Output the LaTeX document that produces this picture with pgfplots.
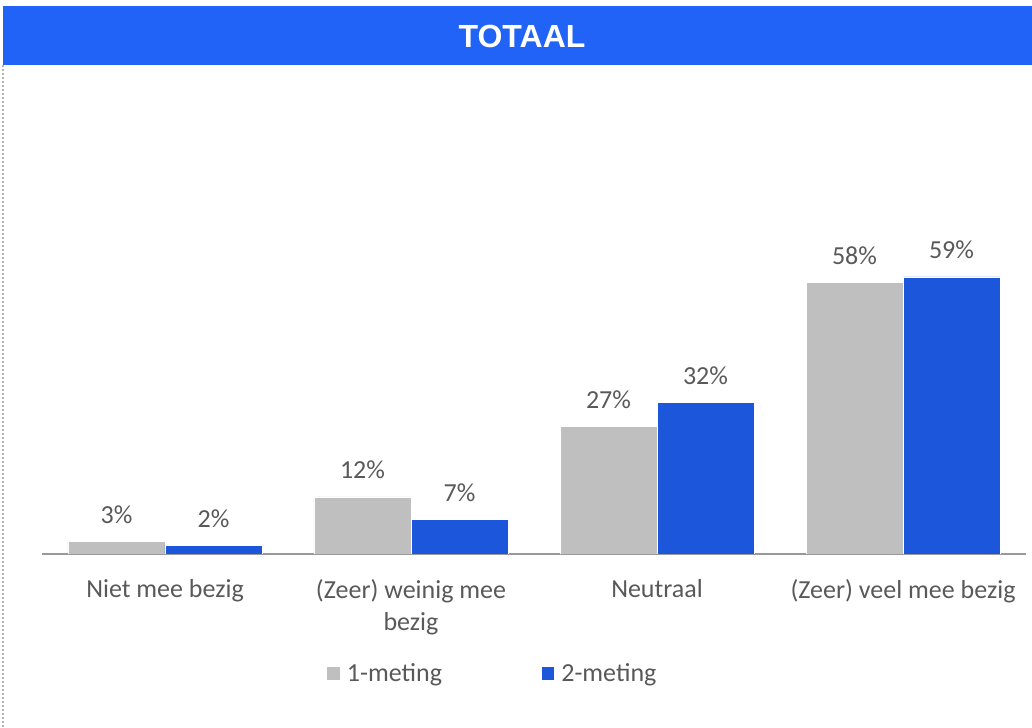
\documentclass[border=0pt]{standalone}
\usepackage{pgfplots}
\pgfplotsset{compat=1.18}
\usepackage{fontspec}
\setmainfont{Carlito}
\newfontfamily\titlefont{Liberation Sans}
\definecolor{header}{RGB}{33,99,247}
\definecolor{barblue}{RGB}{27,86,219}
\definecolor{bargray}{RGB}{191,191,191}
\definecolor{txt}{RGB}{89,89,89}

\begin{document}
\begin{tikzpicture}
\useasboundingbox (0,0) rectangle (774pt,546pt);
% header band
\fill[header] (2.25pt,497.25pt) rectangle (774pt,541.5pt);
\node[text=white, font=\titlefont\bfseries\fontsize{24}{28}\selectfont] at (391.5pt,519pt) {TOTAAL};
\draw[gray!60, line width=1pt, dotted] (2.25pt,497pt) -- (2.25pt,0pt);

\begin{axis}[
    at={(31.5pt,130.5pt)}, anchor=south west,
    scale only axis,
    width=738pt, height=354pt,
    ybar=0pt, bar width=72.75pt,
    xmin=-0.5, xmax=3.5, ymin=0, ymax=100,
    axis x line=bottom, axis y line=none,
    x axis line style={draw=gray!80, line width=0.8pt, -},
    xtick=data, major tick length=0pt,
    xticklabels={Niet mee bezig, {(Zeer) weinig mee\\bezig}, Neutraal, (Zeer) veel mee bezig},
    xticklabel style={align=center, text=txt, font=\fontsize{19.5}{24}\selectfont, anchor=north, inner sep=0pt, yshift=-19pt},
    nodes near coords={\pgfmathprintnumber[fixed,precision=0,assume math mode=true]{\pgfplotspointmeta}\%},
    every node near coord/.append style={text=txt, font=\fontsize{19.5}{24}\selectfont, anchor=base, inner sep=0pt, yshift=13.5pt},
    legend columns=2,
    legend style={draw=none, at={(0.458,-0.254)}, anchor=center, text=txt, font=\fontsize{19.5}{24}\selectfont,
        /tikz/every odd column/.append style={column sep=3pt},
        /tikz/every even column/.append style={column sep=72pt}},
    legend image code/.code={\fill[#1] (0pt,-5pt) rectangle (10pt,6pt);},
]
\addplot[fill=bargray, draw=white, line width=0.5pt] coordinates {(0,2.6) (1,12.1) (2,27.1) (3,57.6)};
\addplot[fill=barblue, draw=white, line width=0.5pt] coordinates {(0,1.9) (1,7.4) (2,32.2) (3,58.7)};
\legend{1-meting, 2-meting}
\end{axis}
\end{tikzpicture}
\end{document}
